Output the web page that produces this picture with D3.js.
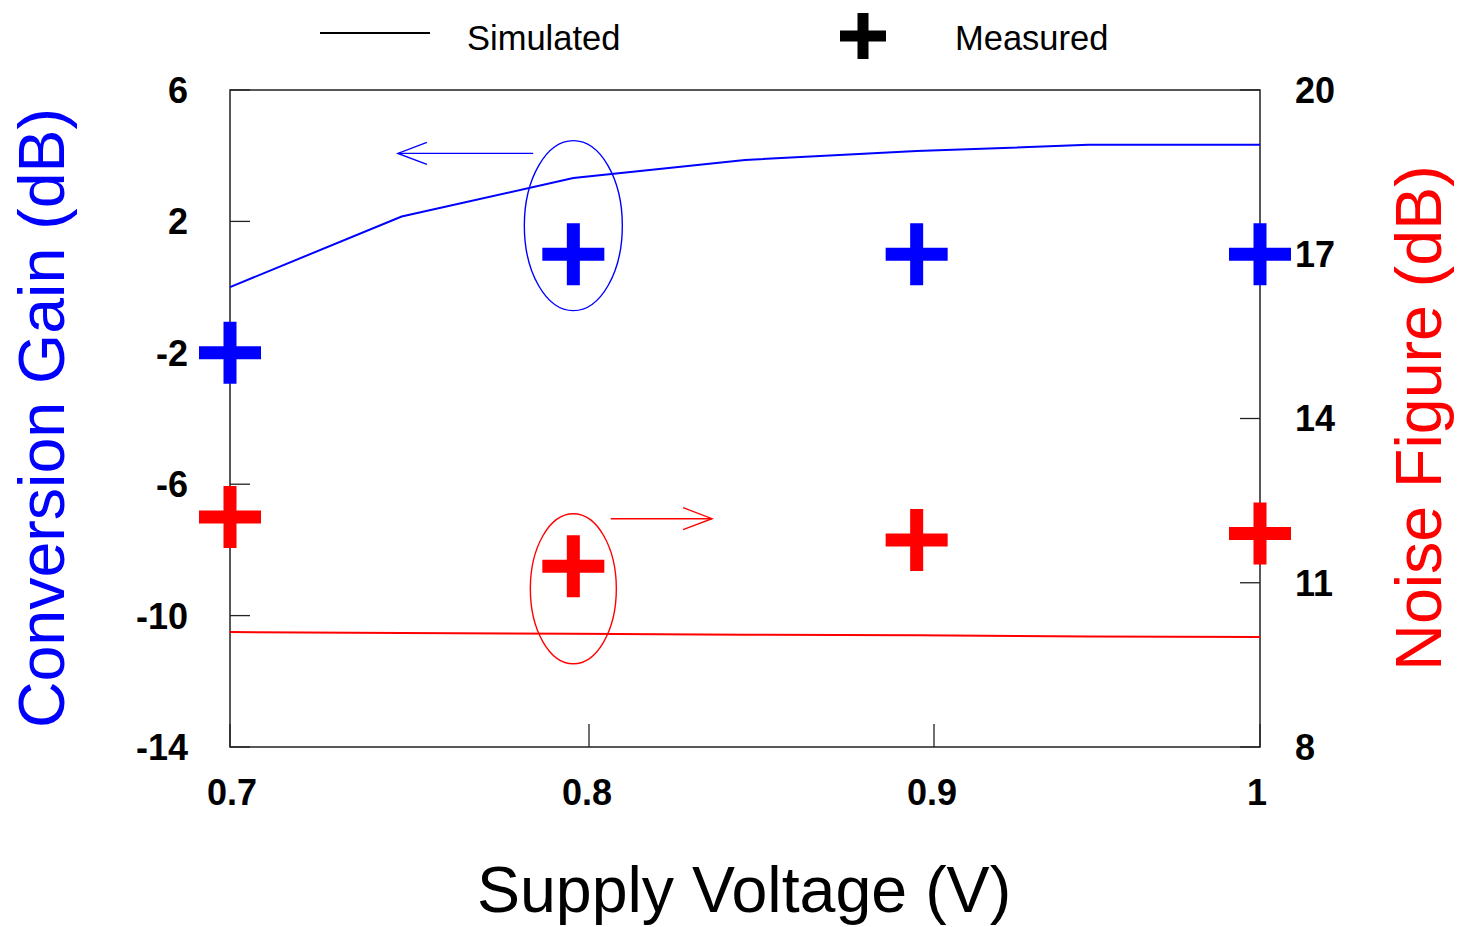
<!DOCTYPE html>
<html>
<head>
<meta charset="utf-8">
<script src="https://cdn.jsdelivr.net/npm/d3@7"></script>
<style>
  body { margin: 0; background: #fff; }
  text { font-family: Arial, "Liberation Sans", sans-serif; }
</style>
</head>
<body>
<div id="chart"></div>
<script>
// simulated curves (0.05 V steps)
const simVolt = [0.7, 0.75, 0.8, 0.85, 0.9, 0.95, 1.0];
const simGain = [0.0, 2.15, 3.32, 3.87, 4.14, 4.33, 4.33];
const simNF = [10.10, 10.08, 10.07, 10.05, 10.04, 10.02, 10.01];

// measured points
const measVolt = [0.7, 0.8, 0.9, 1.0];
const measGain = [-2.0, 1.0, 1.0, 1.0];
const measNF = [12.2, 11.3, 11.78, 11.9];

// axes
const xTicks = [0.7, 0.8, 0.9, 1.0];
const xTickLabels = ["0.7", "0.8", "0.9", "1"];
const gainTicks = [6, 2, -2, -6, -10, -14];
const nfTicks = [20, 17, 14, 11, 8];

const W = 1459, H = 927;
const plotL = 230, plotR = 1260, plotT = 90, plotB = 747;
const blue = "#0000ff", red = "#ff0000";

const svg = d3.select("#chart").append("svg")
    .attr("width", W)
    .attr("height", H);

const x = d3.scaleLinear().domain([0.7, 1.0]).range([plotL, plotR]);
// the tick marks in the original sit a little off the data grid
const xTickPos = d3.scaleLinear().domain([0.7, 0.8, 0.9, 1.0]).range([230, 589, 934, 1260]);
const yL = d3.scaleLinear().domain([-14, 6]).range([plotB, plotT]);
const yR = d3.scaleLinear().domain([8, 20]).range([plotB, plotT]);

// frame
svg.append("rect")
    .attr("x", plotL).attr("y", plotT)
    .attr("width", plotR - plotL).attr("height", plotB - plotT)
    .attr("fill", "none")
    .attr("stroke", "#222")
    .attr("stroke-width", 1.5);

// left ticks (inside)
svg.selectAll(".ltick").data(gainTicks).enter().append("line")
    .attr("x1", plotL).attr("x2", plotL + 20)
    .attr("y1", d => yL(d)).attr("y2", d => yL(d))
    .attr("stroke", "#222").attr("stroke-width", 1.3);
svg.selectAll(".llab").data(gainTicks).enter().append("text")
    .attr("x", 188).attr("y", d => yL(d))
    .attr("dy", "0.36em")
    .attr("text-anchor", "end")
    .style("font-size", "36px").style("font-weight", "bold")
    .text(d => d);

// right ticks
svg.selectAll(".rtick").data(nfTicks).enter().append("line")
    .attr("x1", plotR - 20).attr("x2", plotR)
    .attr("y1", d => yR(d)).attr("y2", d => yR(d))
    .attr("stroke", "#222").attr("stroke-width", 1.3);
svg.selectAll(".rlab").data(nfTicks).enter().append("text")
    .attr("x", 1295).attr("y", d => yR(d))
    .attr("dy", "0.36em")
    .attr("text-anchor", "start")
    .style("font-size", "36px").style("font-weight", "bold")
    .text(d => d);

// bottom ticks
svg.selectAll(".btick").data(xTicks).enter().append("line")
    .attr("x1", d => xTickPos(d)).attr("x2", d => xTickPos(d))
    .attr("y1", plotB - 23).attr("y2", plotB)
    .attr("stroke", "#222").attr("stroke-width", 1.3);
svg.selectAll(".blab").data(xTicks).enter().append("text")
    .attr("x", (d, i) => xTickPos(d) + (i === 0 ? 2 : (i === 3 ? -3 : -2)))
    .attr("y", 792)
    .attr("dy", "0.36em")
    .attr("text-anchor", "middle")
    .style("font-size", "36px").style("font-weight", "bold")
    .text((d, i) => xTickLabels[i]);

// simulated lines
const lineGain = d3.line().x((d, i) => x(simVolt[i])).y(d => yL(d));
const lineNF = d3.line().x((d, i) => x(simVolt[i])).y(d => yR(d));

svg.append("path")
    .attr("d", lineGain(simGain))
    .attr("fill", "none").attr("stroke", blue).attr("stroke-width", 2);
svg.append("path")
    .attr("d", lineNF(simNF))
    .attr("fill", "none").attr("stroke", red).attr("stroke-width", 2);

// plus marker
function plusPath(cx, cy, arm, th) {
    const h = th / 2;
    return `M${cx - arm},${cy - h}H${cx - h}V${cy - arm}H${cx + h}V${cy - h}H${cx + arm}` +
        `V${cy + h}H${cx + h}V${cy + arm}H${cx - h}V${cy + h}H${cx - arm}Z`;
}

svg.selectAll(".mgain").data(measGain).enter().append("path")
    .attr("d", (d, i) => plusPath(x(measVolt[i]), yL(d), 31, 13))
    .attr("fill", blue);
svg.selectAll(".mnf").data(measNF).enter().append("path")
    .attr("d", (d, i) => plusPath(x(measVolt[i]), yR(d), 31, 13))
    .attr("fill", red);

// annotations: ellipses + arrows
svg.append("ellipse")
    .attr("cx", x(0.8)).attr("cy", yL(1.87))
    .attr("rx", 49).attr("ry", 85)
    .attr("fill", "none").attr("stroke", blue).attr("stroke-width", 1.4);
svg.append("ellipse")
    .attr("cx", x(0.8)).attr("cy", yR(10.89))
    .attr("rx", 43).attr("ry", 75)
    .attr("fill", "none").attr("stroke", red).attr("stroke-width", 1.4);

function arrow(x1, x2, y, color) {
    const dir = x2 > x1 ? 1 : -1;
    svg.append("line")
        .attr("x1", x1).attr("x2", x2).attr("y1", y).attr("y2", y)
        .attr("stroke", color).attr("stroke-width", 1.4);
    svg.append("path")
        .attr("d", `M${x2 - dir * 29},${y - 11}L${x2},${y}L${x2 - dir * 29},${y + 11}`)
        .attr("fill", "none").attr("stroke", color).attr("stroke-width", 1.4);
}
arrow(x(0.7883), x(0.7489), yL(4.07), blue);
arrow(x(0.8109), x(0.8404), yR(12.17), red);

// legend
svg.append("line")
    .attr("x1", 320).attr("x2", 430).attr("y1", 33).attr("y2", 33)
    .attr("stroke", "#000").attr("stroke-width", 2);
svg.append("text")
    .attr("x", 467).attr("y", 50)
    .style("font-size", "34.5px")
    .text("Simulated");
svg.append("path")
    .attr("d", plusPath(863, 36, 23, 11))
    .attr("fill", "#000");
svg.append("text")
    .attr("x", 955).attr("y", 50)
    .style("font-size", "34.5px")
    .text("Measured");

// axis titles
svg.append("text")
    .attr("transform", "translate(64,418) rotate(-90)")
    .attr("text-anchor", "middle")
    .style("font-size", "64.5px")
    .attr("fill", blue)
    .text("Conversion Gain (dB)");
svg.append("text")
    .attr("transform", "translate(1441,418) rotate(-90)")
    .attr("text-anchor", "middle")
    .style("font-size", "64.5px")
    .attr("fill", red)
    .text("Noise Figure (dB)");
svg.append("text")
    .attr("x", 744).attr("y", 912)
    .attr("text-anchor", "middle")
    .style("font-size", "64.5px")
    .text("Supply Voltage (V)");
</script>
</body>
</html>
